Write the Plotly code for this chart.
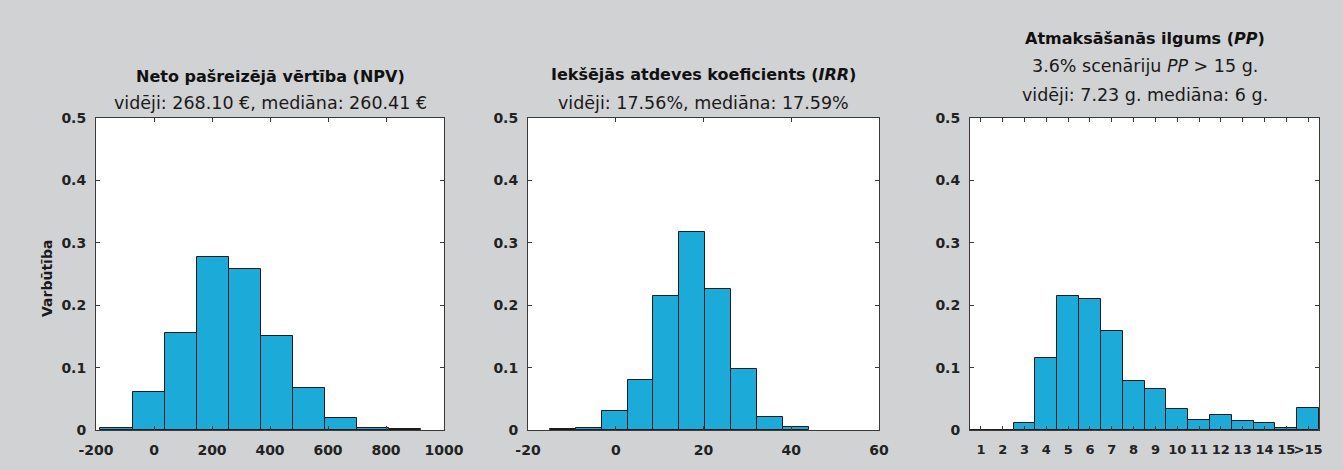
import plotly.graph_objects as go

W, H = 1343, 470

# ---------------- data ----------------
npv_edges = [-185, -74, 37, 147, 258, 369, 479, 590, 701, 811, 922]
npv_prob = [0.004, 0.061, 0.156, 0.277, 0.258, 0.150, 0.068, 0.020, 0.003, 0.002]

irr_edges = [-15.0, -9.1, -3.2, 2.7, 8.6, 14.5, 20.4, 26.3, 32.2, 38.1, 44.0]
irr_prob = [0.001, 0.003, 0.030, 0.080, 0.214, 0.318, 0.226, 0.097, 0.021, 0.005]

pp_years = list(range(1, 17))
pp_labels = ["1", "2", "3", "4", "5", "6", "7", "8", "9", "10", "11", "12", "13", "14", "15", ">15"]
pp_prob = [0.0, 0.0, 0.0105, 0.116, 0.215, 0.210, 0.159, 0.078, 0.065, 0.034,
           0.016, 0.024, 0.015, 0.0105, 0.004, 0.036]

npv_ticks = [-200, 0, 200, 400, 600, 800, 1000]
irr_ticks = [-20, 0, 20, 40, 60]
y_ticks = [0, 0.1, 0.2, 0.3, 0.4, 0.5]
y_ticklabels = ["0", "0.1", "0.2", "0.3", "0.4", "0.5"]

titles = [
    "<b>Neto pašreizējā vērtība (NPV)</b>",
    "<b>Iekšējās atdeves koeficients (<i>IRR</i>)</b>",
    "<b>Atmaksāšanās ilgums (<i>PP</i>)</b>",
]
subtitles = [
    ["vidēji: 268.10 €, mediāna: 260.41 €"],
    ["vidēji: 17.56%, mediāna: 17.59%"],
    ["3.6% scenāriju <i>PP</i> > 15 g.", "vidēji: 7.23 g. mediāna: 6 g."],
]
ylabel = "Varbūtība"

# ---------------- style ----------------
BG = "#d1d2d4"
BAR = "#1caad9"
EDGE = "#1c1c1c"
AX = "#3a3a3a"
FONT = "DejaVu Sans"

# plot areas in pixels (left, right)
px = [(96, 444), (528, 879), (970, 1319)]
py_top, py_bot = 118, 430


def centers(edges):
    return [(edges[i] + edges[i + 1]) / 2 for i in range(len(edges) - 1)]


def widths(edges):
    return [edges[i + 1] - edges[i] for i in range(len(edges) - 1)]


fig = go.Figure()
bar_style = dict(marker=dict(color=BAR, line=dict(color=EDGE, width=1)), showlegend=False,
                 hoverinfo="skip")
fig.add_trace(go.Bar(x=centers(npv_edges), y=npv_prob, width=widths(npv_edges),
                     xaxis="x", yaxis="y", **bar_style))
fig.add_trace(go.Bar(x=centers(irr_edges), y=irr_prob, width=widths(irr_edges),
                     xaxis="x2", yaxis="y2", **bar_style))
fig.add_trace(go.Bar(x=pp_years, y=pp_prob, width=1.0,
                     xaxis="x3", yaxis="y3", **bar_style))

tickfont = dict(family=FONT, size=14, color="#222222", weight="bold")
common_axis = dict(showline=True, linecolor=AX, linewidth=1, mirror="ticks",
                   ticks="inside", ticklen=4, tickcolor=AX, showgrid=False,
                   zeroline=False, tickfont=tickfont, fixedrange=True)

ydom = [1 - py_bot / H, 1 - py_top / H]
xranges = [[-200, 1000], [-20, 60], [0.5, 16.5]]
xtickvals = [npv_ticks, irr_ticks, pp_years]
xticktext = [[str(v) for v in npv_ticks], [str(v) for v in irr_ticks], pp_labels]
xtickfonts = [tickfont, tickfont, dict(tickfont, size=13)]

layout = dict(
    width=W, height=H,
    paper_bgcolor=BG, plot_bgcolor="white",
    margin=dict(l=0, r=0, t=0, b=0, autoexpand=False),
    bargap=0, barmode="overlay",
    font=dict(family=FONT, color="#1a1a1a"),
)
for i in range(3):
    sx = "" if i == 0 else str(i + 1)
    layout["xaxis" + sx] = dict(
        common_axis, domain=[px[i][0] / W, px[i][1] / W], range=xranges[i],
        tickvals=xtickvals[i], ticktext=xticktext[i], tickangle=0,
        tickfont=xtickfonts[i], anchor="y" + sx, ticklabelstandoff=7,
    )
    layout["yaxis" + sx] = dict(
        common_axis, domain=ydom, range=[0, 0.5], tickvals=y_ticks,
        ticktext=y_ticklabels, anchor="x" + sx, ticklabelstandoff=6,
    )
fig.update_layout(**layout)

# titles
ann = []
title_y = [76, 75, 39]
sub_y = [[103], [103], [66, 95]]
for i in range(3):
    cx = (px[i][0] + px[i][1]) / 2 / W
    ann.append(dict(text=titles[i], x=cx, y=1 - title_y[i] / H, xref="paper", yref="paper",
                    showarrow=False, xanchor="center", yanchor="middle",
                    font=dict(family=FONT, size=16, color="#111111")))
    for t, yy in zip(subtitles[i], sub_y[i]):
        ann.append(dict(text=t, x=cx, y=1 - yy / H, xref="paper", yref="paper",
                        showarrow=False, xanchor="center", yanchor="middle",
                        font=dict(family=FONT, size=17.5, color="#1a1a1a")))
ann.append(dict(text=ylabel, x=47 / W, y=1 - 279 / H, xref="paper", yref="paper",
                showarrow=False, textangle=-90, xanchor="center", yanchor="middle",
                font=dict(family=FONT, size=14, color="#1a1a1a", weight=600)))
fig.update_layout(annotations=ann)

fig.write_html("out.html", config={"displayModeBar": False},
               post_script="document.body.style.margin='0';")
